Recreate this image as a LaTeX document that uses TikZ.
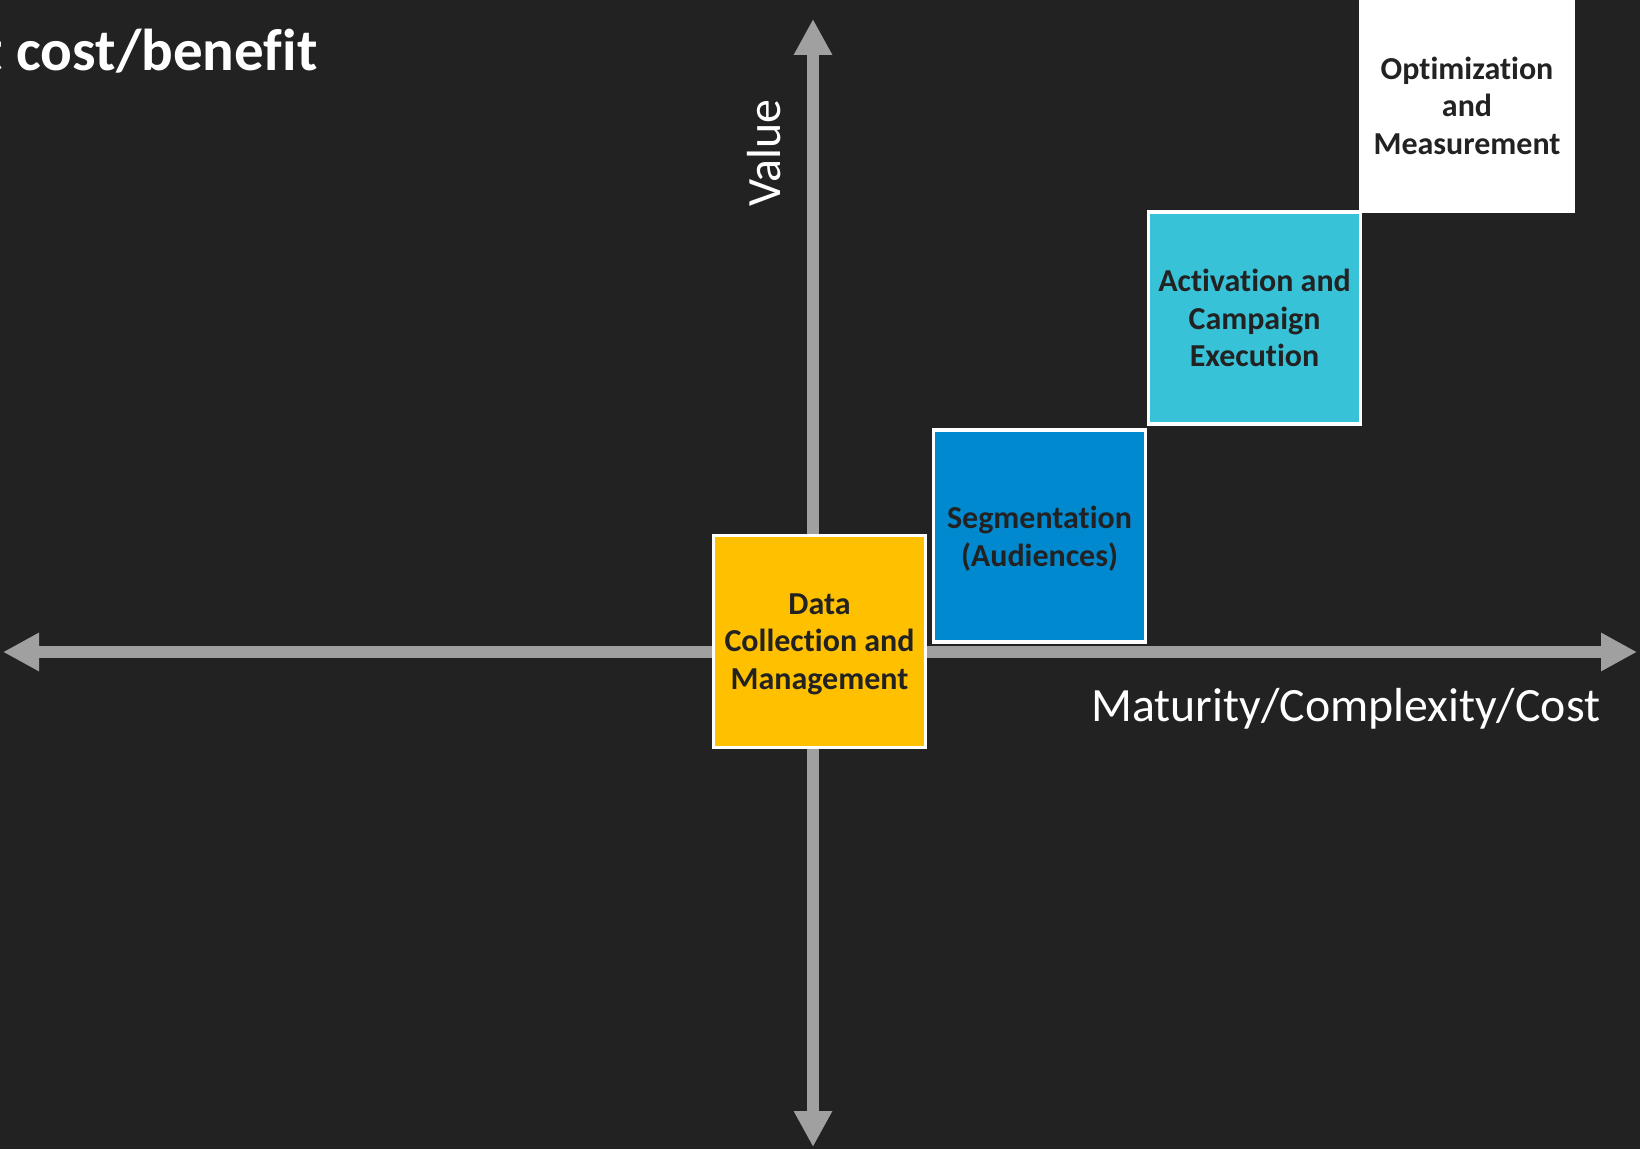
\documentclass[tikz,border=0pt]{standalone}
\usepackage{fontspec}
\setmainfont{Carlito}[Ligatures={NoCommon}]
\usetikzlibrary{arrows.meta,positioning}
\definecolor{bgdark}{HTML}{222222}
\definecolor{axisgrey}{HTML}{A0A0A0}
\definecolor{datayellow}{HTML}{FFC000}
\definecolor{segblue}{HTML}{0089CF}
\definecolor{actcyan}{HTML}{37C2D7}
\definecolor{inkdark}{HTML}{222222}
\tikzset{
  stage/.style={draw=white,line width=1pt,minimum size=2.12cm,inner sep=0pt,
    align=center,text depth=0pt,text=inkdark,
    font=\fontsize{9.1}{10.7}\selectfont\bfseries},
  axis/.style={draw=axisgrey,line width=1.2mm,
    {Triangle[length=3.6mm,width=3.6mm]}-{Triangle[length=3.6mm,width=3.6mm]}},
  axislabel/.style={text=white,inner sep=0pt,font=\fontsize{13.6}{16}\selectfont}
}

\begin{document}
\begin{tikzpicture}
  \useasboundingbox (0,0) rectangle (16.4,11.49);
  \clip (0,0) rectangle (16.4,11.49);
  \fill[bgdark] (0,0) rectangle (16.4,11.49);
  % axis ends
  \coordinate (xl) at (0.03,4.97);
  \coordinate (xr) at (16.37,4.97);
  \coordinate (yb) at (8.13,0.02);
  \coordinate (yt) at (8.13,11.30);
  \draw[axis] (xl) -- (xr);
  \draw[axis] (yb) -- (yt);
  \node[anchor=base west,inner sep=0pt,text=white,
    font=\fontsize{16.8}{20}\selectfont\bfseries] (title) at (-0.18,10.78) {t cost/benefit};
  \node[axislabel,rotate=90] (val) at (7.64,9.96) {Value};
  \node[axislabel,anchor=east] (mat) at (16.01,4.40) {Maturity/Complexity/Cost};
  % maturity stages
  \node[stage,fill=datayellow] (data) at (8.195,5.075) {Data\\Collection and\\Management};
  \node[stage,fill=segblue] (seg) at (10.395,6.13) {Segmentation\\(Audiences)};
  \node[stage,fill=actcyan] (act) at (12.545,8.31) {Activation and\\Campaign\\Execution};
  \node[stage,fill=white] (opt) at (14.67,10.435) {Optimization\\and\\Measurement};
\end{tikzpicture}
\end{document}
